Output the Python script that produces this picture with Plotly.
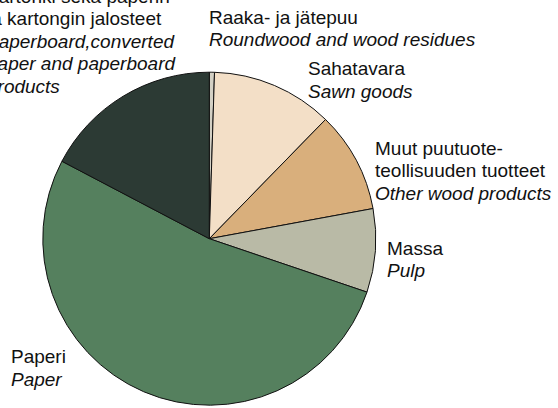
import plotly.graph_objects as go

# Product groups (share of value, %)
labels_fi = ["Raaka- ja jätepuu", "Sahatavara", "Muut puutuoteteollisuuden tuotteet",
             "Massa", "Paperi", "Kartonki sekä paperin ja kartongin jalosteet"]
labels_en = ["Roundwood and wood residues", "Sawn goods", "Other wood products",
             "Pulp", "Paper", "Paperboard, converted paper and paperboard products"]
shares = [0.5, 11.8, 9.8, 8.1, 52.5, 17.3]
colors = ["#d3d0c4", "#f3dfc7", "#d9af7c", "#b9baa6", "#55805e", "#2c3a34"]

W, H = 558, 408

fig = go.Figure(go.Pie(
    labels=labels_en,
    values=shares,
    sort=False,
    direction="clockwise",
    rotation=0,
    marker=dict(colors=colors, line=dict(color="#111111", width=1)),
    textinfo="none",
    hoverinfo="label+percent",
    showlegend=False,
    domain=dict(x=[42.8 / W, 375.8 / W], y=[2.8 / H, 335.8 / H]),
))

# Label blocks: (left x, first baseline y, lines); italic lines are English
label_blocks = [
    (-14, 2.7, ["Kartonki sekä paperin", "ja kartongin jalosteet",
                "<i>Paperboard,converted</i>", "<i>paper and paperboard</i>",
                "<i>products</i>"]),
    (209.3, 24, ["Raaka- ja jätepuu", "<i>Roundwood and wood residues</i>"]),
    (308.3, 75.5, ["Sahatavara", "<i>Sawn goods</i>"]),
    (375, 155, ["Muut puutuote-", "teollisuuden tuotteet", "<i>Other wood products</i>"]),
    (387.3, 255, ["Massa", "<i>Pulp</i>"]),
    (11, 363.3, ["Paperi", "<i>Paper</i>"]),
]

FS = 19
LINE = 22.5
for x0, y0, lines in label_blocks:
    for i, txt in enumerate(lines):
        base = y0 + i * LINE
        fig.add_annotation(
            x=x0 / W, y=1 - (base - 6.6) / H,
            xref="paper", yref="paper",
            xanchor="left", yanchor="middle",
            text=txt, showarrow=False,
            font=dict(family="Liberation Sans, Arial, sans-serif", size=FS, color="#111111"),
            borderpad=0, borderwidth=0,
        )

fig.update_layout(
    width=W, height=H,
    margin=dict(l=0, r=0, t=0, b=0),
    paper_bgcolor="white",
    plot_bgcolor="white",
)

fig.write_html("out.html")
